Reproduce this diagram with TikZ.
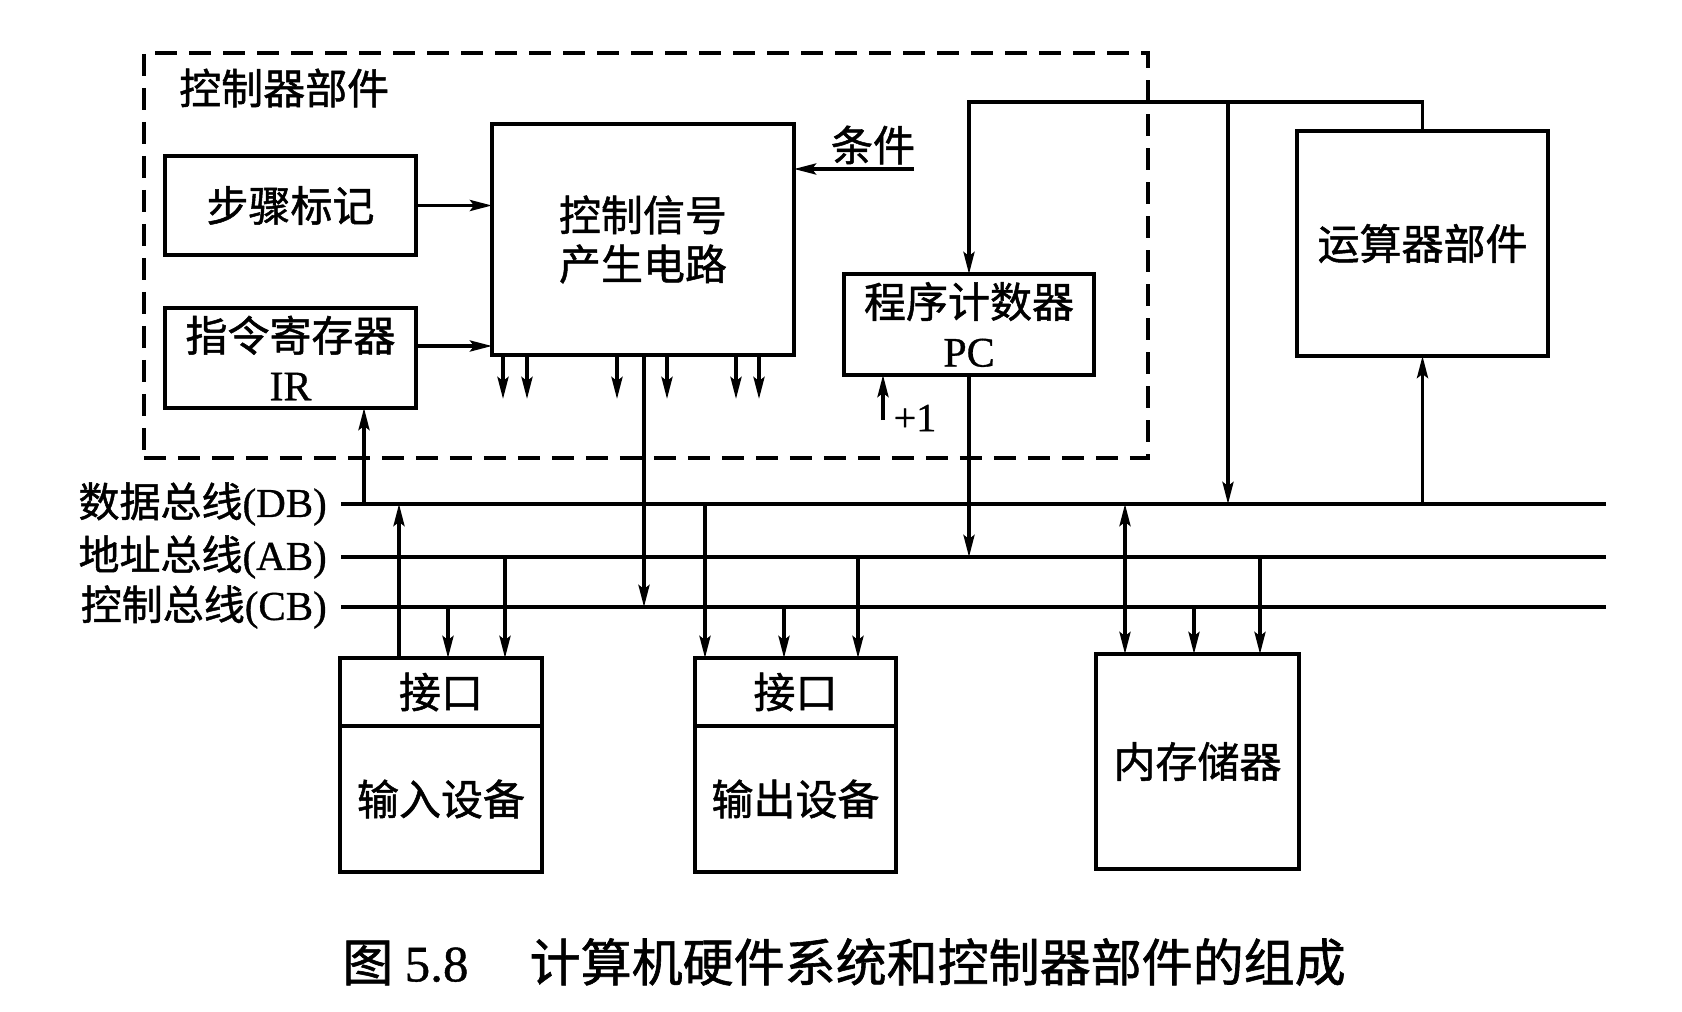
\documentclass[tikz,border=0pt]{standalone}
\usepackage{fontspec}
\setmainfont[FakeBold=0.8]{Liberation Serif}
\newfontfamily\cjk[FakeBold=1.2]{Noto Sans CJK SC}
\usetikzlibrary{arrows.meta, positioning}

\newcommand{\boxfont}{\fontsize{42}{49}\selectfont\cjk}
\newcommand{\ltn}[1]{{\rmfamily #1}}

\begin{document}
\begin{tikzpicture}[
    x=1pt, y=-1pt,
    box/.style={rectangle, draw, line width=4pt, inner sep=0pt, outer sep=0pt, anchor=north west, align=center, font=\boxfont},
    dashbox/.style={rectangle, draw, line width=3.5pt, dash pattern=on 22pt off 12pt, inner sep=0pt, anchor=north west},
    lbl/.style={inner sep=0pt, font=\boxfont},
    buslbl/.style={inner sep=0pt, font=\fontsize{41}{48}\selectfont\cjk},
    arr/.style={-{Stealth[length=22pt, width=11pt, inset=4pt]}, line width=3.6pt},
    dblarr/.style={{Stealth[length=22pt, width=11pt, inset=4pt]}-{Stealth[length=22pt, width=11pt, inset=4pt]}, line width=3.6pt},
    bus/.style={line width=4.6pt}
]
    \useasboundingbox (0,0) rectangle (1682,1012);

    % Controller
    \node[dashbox, minimum width=1004pt, minimum height=405pt] (ctrl) at (142,51) {};
    \node[lbl, anchor=west] (ctrllbl) at (179,88) {控制器部件};
    \node[box, minimum width=251pt, minimum height=99pt] (step) at (165,156) {步骤标记};
    \node[box, minimum width=251pt, minimum height=100pt, below=53pt of step] (ir) {指令寄存器\\\ltn{IR}};
    \node[box, minimum width=302pt, minimum height=231pt] (sig) at (492,124) {控制信号\\产生电路};
    \node[box, minimum width=250pt, minimum height=101pt] (pc) at (844,274) {程序计数器\\\ltn{PC}};
    \node[lbl] (cond) at (873,145) {条件};
    \node[inner sep=0pt, font=\fontsize{40}{44}\selectfont] (plus) at (915,418) {+1};

    % ALU
    \node[box, minimum width=251pt, minimum height=225pt] (alu) at (1297,131) {运算器部件};

    % Devices
    \node[box, minimum width=202pt, minimum height=68pt] (in1) at (340,658) {接口};
    \node[box, minimum width=202pt, minimum height=146pt, below=0pt of in1] (in2) {输入设备};
    \node[box, minimum width=201pt, minimum height=68pt] (out1) at (695,658) {接口};
    \node[box, minimum width=201pt, minimum height=146pt, below=0pt of out1] (out2) {输出设备};
    \node[box, minimum width=203pt, minimum height=215pt] (mem) at (1096,654) {内存储器};

    % Buses
    \coordinate (dbL) at (341,504);
    \coordinate (dbR) at (1606,504);
    \coordinate (abL) at (341,557);
    \coordinate (abR) at (1606,557);
    \coordinate (cbL) at (341,607);
    \coordinate (cbR) at (1606,607);
    \draw[bus] (dbL) -- (dbR);
    \draw[bus] (abL) -- (abR);
    \draw[bus] (cbL) -- (cbR);
    \node[buslbl, left=14pt of dbL] (dblbl) {数据总线\ltn{(DB)}};
    \node[buslbl, left=14pt of abL] (ablbl) {地址总线\ltn{(AB)}};
    \node[buslbl, left=14pt of cbL] (cblbl) {控制总线\ltn{(CB)}};

    % Inside the controller
    \coordinate (irout) at ([yshift=12pt]ir.east);
    \coordinate (condin) at (914,169);
    \draw[arr] (step.east) -- (step.east -| sig.west);
    \draw[arr] (irout) -- (irout -| sig.west);
    \draw[arr] (condin) -- (condin -| sig.east);
    \foreach \dx in {11,35,125,175,244,267}
        \draw[arr] (sig.south west) ++(\dx,0) -- ++(0,44);
    \coordinate (cbsig) at (644,607);
    \draw[arr] (cbsig |- sig.south) -- (cbsig);

    % PC and ALU
    \coordinate (topL) at (969,102);
    \coordinate (dbalu) at (1228,504);
    \coordinate (abpc) at (969,557);
    \coordinate (incr) at (883,420);
    \draw[arr] (alu.north) |- (topL) -- (pc.north);
    \draw[arr] (dbalu |- topL) -- (dbalu);
    \draw[arr] (pc.south) -- (abpc);
    \draw[arr] (incr) -- (incr |- pc.south);
    \draw[arr] (alu.south |- dbL) -- (alu.south);
    \coordinate (dbir) at (364,504);
    \draw[arr] (dbir) -- (dbir |- ir.south);

    % Input device
    \coordinate (dbin) at (399,504);
    \coordinate (cbin) at (448,607);
    \coordinate (abin) at (505,557);
    \draw[arr] (dbin |- in1.north) -- (dbin);
    \draw[arr] (cbin) -- (cbin |- in1.north);
    \draw[arr] (abin) -- (abin |- in1.north);

    % Output device
    \coordinate (dbout) at (705,504);
    \coordinate (cbout) at (784,607);
    \coordinate (about) at (858,557);
    \draw[arr] (dbout) -- (dbout |- out1.north);
    \draw[arr] (cbout) -- (cbout |- out1.north);
    \draw[arr] (about) -- (about |- out1.north);

    % Memory
    \coordinate (dbmem) at (1125,504);
    \coordinate (cbmem) at (1194,607);
    \coordinate (abmem) at (1260,557);
    \draw[dblarr] (dbmem) -- (dbmem |- mem.north);
    \draw[arr] (cbmem) -- (cbmem |- mem.north);
    \draw[arr] (abmem) -- (abmem |- mem.north);

    % Caption
    \node[inner sep=0pt, font=\fontsize{51}{56}\selectfont\cjk] (cap) at (844,962) {图 \ltn{5.8}\hspace{1.2em}计算机硬件系统和控制器部件的组成};
\end{tikzpicture}
\end{document}
